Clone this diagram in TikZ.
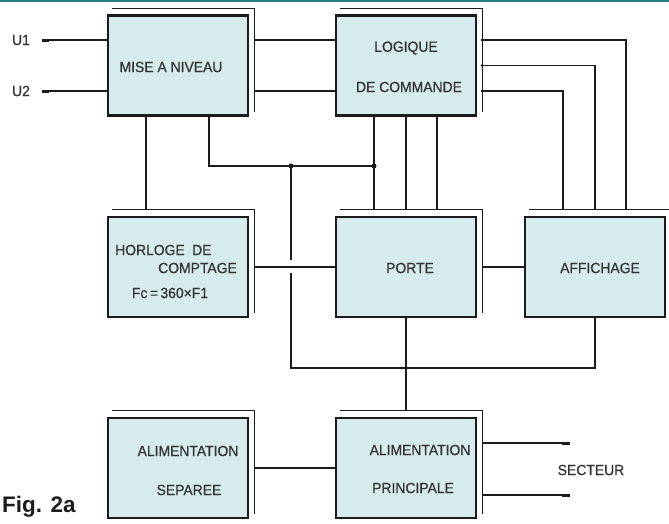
\documentclass[tikz,border=0pt]{standalone}
\usepackage{fontspec}
\setmainfont{Liberation Sans}
\newfontfamily\lblfont{Liberation Sans}[FakeBold=0.5, FakeStretch=0.94]
\usetikzlibrary{calc}
\definecolor{boxfill}{RGB}{214,236,236}
\definecolor{ink}{RGB}{28,28,28}
\definecolor{topband}{RGB}{40,128,136}
\begin{document}
\begin{tikzpicture}[x=1pt,y=-1pt,
  box/.style={draw=ink, line width=2.4pt, fill=boxfill, minimum width=140pt,
              minimum height=100pt, inner sep=0pt},
  frame/.style={draw=ink, line width=0.9pt},
  wire/.style={draw=ink, line width=1.3pt},
  stub/.style={draw=ink, line width=3pt},
  lbl/.style={text=ink!90, font=\lblfont\fontsize{14.8}{17}\selectfont, inner sep=0pt},
  dot/.style={circle, fill=ink, inner sep=0pt, minimum size=5pt},
  tinydot/.style={circle, fill=ink, inner sep=0pt, minimum size=3.2pt}]
\useasboundingbox (0,0) rectangle (669,523);
\fill[topband] (0,0) rectangle (669,1.8);

% blocks
\node[box] (mise)       at (178,65.5) {};
\node[box] (logique)    at (406,65.5) {};
\node[box] (horloge)    at (178,267)  {};
\node[box] (porte)      at (406,267)  {};
\node[box] (affichage)  at (595,267)  {};
\node[box] (separee)    at (178,468)  {};
\node[box] (principale) at (406,468)  {};

% offset outline behind each block (top and right sides)
\foreach \b in {mise,logique,horloge,porte,affichage,separee,principale}
  \draw[frame] ([shift={(5,-6)}]\b.north west) -| ([shift={(5,-5)}]\b.south east);

% block texts
\node[lbl] (t-mise) at (171,67) {MISE A NIVEAU};
\node[lbl] (t-log1) at (406,48) {LOGIQUE};
\node[lbl] (t-log2) at (409,87) {DE COMMANDE};
\node[lbl, anchor=west] (t-hor1) at (115,250) {HORLOGE\enspace DE};
\node[lbl, anchor=east] (t-hor2) at (237,268) {COMPTAGE};
\node[lbl] (t-hor3) at (170,293) {Fc\,=\,360×F1};
\node[lbl] (t-porte) at (410,268) {PORTE};
\node[lbl] (t-aff) at (600,268) {AFFICHAGE};
\node[lbl] (t-sep1) at (188,451) {ALIMENTATION};
\node[lbl] (t-sep2) at (189,490) {SEPAREE};
\node[lbl] (t-pri1) at (420,450) {ALIMENTATION};
\node[lbl, anchor=west] (t-pri2) at (372,488) {PRINCIPALE};

% inputs U1, U2
\coordinate (u1) at (42,40);
\coordinate (u2) at (42,91);
\node[lbl] (t-u1) at (21,40) {U1};
\node[lbl] (t-u2) at (21,91) {U2};
\draw[wire] (u1) -- (u1 -| mise.west);
\draw[wire] (u2) -- (u2 -| mise.west);
\draw[stub] (u1) -- ++(7,0);
\draw[stub] (u2) -- ++(7,0);

% mise a niveau -> logique de commande
\draw[wire] ([xshift=5pt]mise.east |- u1) -- (logique.west |- u1);
\draw[wire] ([xshift=5pt]mise.east |- u2) -- (logique.west |- u2);

% mise a niveau -> horloge
\draw[wire] ([xshift=-32pt]mise.south) -- ([xshift=-32pt,yshift=6pt]horloge.north);

% logique de commande -> porte
\coordinate (lq1) at ([xshift=-32pt]logique.south);
\coordinate (lq2) at (logique.south);
\coordinate (lq3) at ([xshift=31pt]logique.south);
\coordinate (ptop) at ([yshift=6pt]porte.north);
\foreach \c in {lq1,lq2,lq3}
  \draw[wire] (\c) -- (\c |- ptop);

% mise a niveau -> junctions
\coordinate (ja) at (291,166);
\coordinate (jb) at (lq1 |- ja);
\draw[wire] ([xshift=31pt]mise.south) |- (jb);
\node[dot] (da) at (ja) {};
\node[dot] (db) at (jb) {};

% horloge -> porte -> affichage
\coordinate (hp) at ([xshift=5pt]horloge.east);
\draw[wire] (hp) -- (porte.west);
\draw[wire] ([xshift=5pt]porte.east) -- (affichage.west);

% vertical line crossing the horloge-porte link, then the lower bus
\coordinate (bus) at (291,368);
\draw[wire] (ja) -- ([yshift=7pt]ja |- hp);
\draw[wire] ([yshift=-6pt]ja |- hp) -- (bus) -- (bus -| affichage.south) -- (affichage.south);
\draw[wire] (porte.south) -- ([yshift=6pt]principale.north);

% logique de commande -> affichage
\coordinate (lr1) at ([xshift=5pt]logique.east |- u1);
\coordinate (lr2) at ([xshift=5pt]logique.east);
\coordinate (lr3) at ([xshift=5pt]logique.east |- u2);
\draw[wire] (lr1) -| ([xshift=31pt,yshift=6pt]affichage.north);
\draw[wire] (lr2) -| ([yshift=6pt]affichage.north);
\draw[wire] (lr3) -| ([xshift=-32pt,yshift=6pt]affichage.north);
\node[tinydot] (d1) at (lr1) {};
\node[tinydot] (d2) at (lr2) {};
\node[tinydot] (d3) at (lr3) {};

% alimentations
\draw[wire] ([xshift=5pt]separee.east) -- (principale.west);
\coordinate (s1) at (570,443);
\coordinate (s2) at (570,495);
\draw[wire] ([xshift=5pt]principale.east |- s1) -- (s1);
\draw[wire] ([xshift=5pt]principale.east |- s2) -- (s2);
\draw[stub] (s1) -- ++(-8,0);
\draw[stub] (s2) -- ++(-8,0);
\node[lbl] (t-sect) at (591,470) {SECTEUR};

% caption
\node[anchor=base west, inner sep=0pt, text=ink,
      font=\fontsize{22.5}{26}\selectfont\bfseries] (fig) at (2,512) {Fig. 2a};
\end{tikzpicture}
\end{document}
